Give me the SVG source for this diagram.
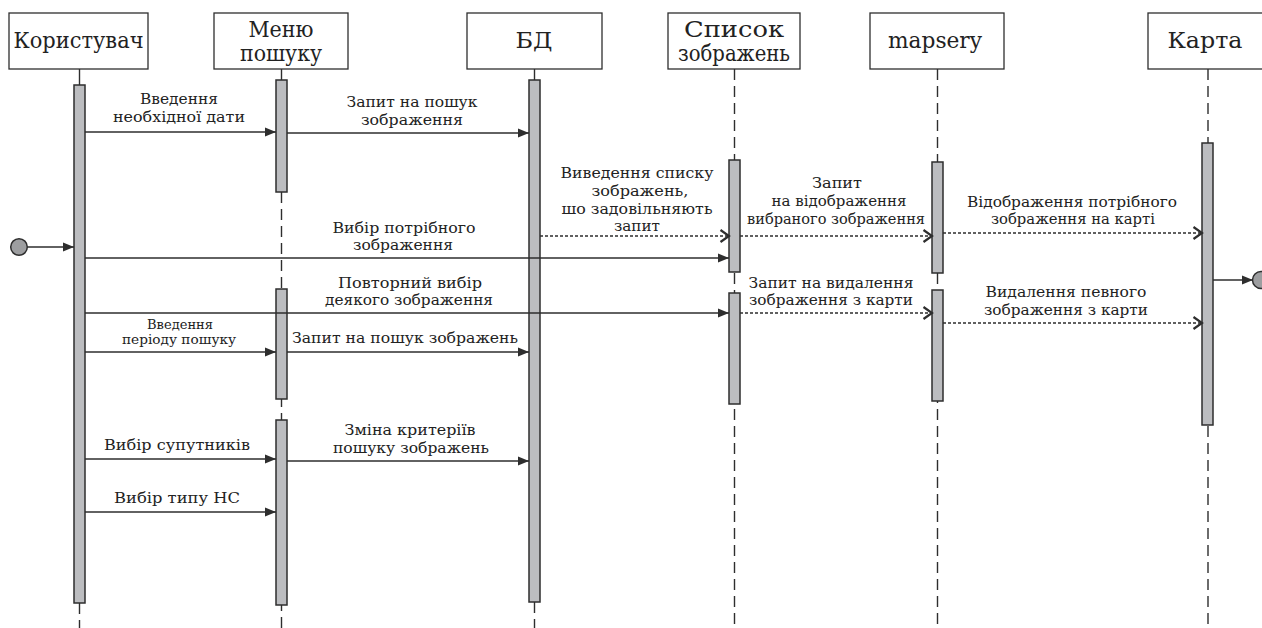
<svg xmlns="http://www.w3.org/2000/svg" width="1262" height="628" viewBox="0 0 1262 628">
<style>
.box{fill:#fff;stroke:#2e2e2e;stroke-width:1.3}
.bar{fill:#bcbdc0;stroke:#2e2e2e;stroke-width:1.5}
.ll{stroke:#2e2e2e;stroke-width:1.4;fill:none}
.lld{stroke:#2e2e2e;stroke-width:1.4;stroke-dasharray:11 6;fill:none}
.msg{stroke:#2e2e2e;stroke-width:1.5;fill:none;marker-end:url(#fill)}
.ret{stroke:#2e2e2e;stroke-width:1.4;stroke-dasharray:3 2;fill:none;marker-end:url(#open)}
.dot{fill:#9d9ea0;stroke:#2e2e2e;stroke-width:1.5}
text{font-family:"DejaVu Serif","Liberation Serif","Noto Serif","Times New Roman",serif;fill:#222;text-anchor:middle}
.h{font-size:22px}
.l{font-size:15.5px}
.s{font-size:12.5px}
</style>
<defs>
<marker id="fill" markerUnits="userSpaceOnUse" markerWidth="12" markerHeight="10" refX="11" refY="5" orient="auto">
<path d="M0,0.5 L11,5 L0,9.5 z" fill="#2e2e2e"/>
</marker>
<marker id="open" markerUnits="userSpaceOnUse" markerWidth="12" markerHeight="14" refX="10" refY="7" orient="auto">
<path d="M1.5,1 L10,7 L1.5,13" fill="none" stroke="#2e2e2e" stroke-width="2.2"/>
</marker>
</defs>
<rect width="1262" height="628" fill="#fff"/>

<g id="node-korystuvach">
<rect class="box" x="9" y="13" width="139" height="56"/>
<text class="h" x="78.5" y="48" textLength="130" lengthAdjust="spacingAndGlyphs">Користувач</text>
<line class="ll" x1="79.5" y1="69" x2="79.5" y2="85"/>
<line class="lld" x1="79.5" y1="603" x2="79.5" y2="628"/>
<rect class="bar" x="74" y="85" width="11" height="518"/>
</g>

<g id="node-menu">
<rect class="box" x="214" y="13" width="134" height="56"/>
<text class="h" x="281" y="37" textLength="65" lengthAdjust="spacingAndGlyphs">Меню</text>
<text class="h" x="281" y="61" textLength="82" lengthAdjust="spacingAndGlyphs">пошуку</text>
<line class="ll" x1="281.5" y1="69" x2="281.5" y2="80"/>
<line class="lld" x1="281.5" y1="192" x2="281.5" y2="628"/>
<rect class="bar" x="276" y="80" width="11" height="112"/>
<rect class="bar" x="276" y="289" width="11" height="110"/>
<rect class="bar" x="276" y="420" width="11" height="185"/>
</g>

<g id="node-bd">
<rect class="box" x="467" y="13" width="135" height="56"/>
<text class="h" x="534" y="48" textLength="37" lengthAdjust="spacingAndGlyphs">БД</text>
<line class="ll" x1="534.5" y1="69" x2="534.5" y2="80"/>
<line class="lld" x1="534.5" y1="602" x2="534.5" y2="628"/>
<rect class="bar" x="529" y="80" width="11" height="522"/>
</g>

<g id="node-spysok">
<rect class="box" x="668" y="13" width="132" height="56"/>
<text class="h" x="734" y="37" textLength="100" lengthAdjust="spacingAndGlyphs">Список</text>
<text class="h" x="734" y="61" textLength="112" lengthAdjust="spacingAndGlyphs">зображень</text>
<line class="lld" x1="734.5" y1="69" x2="734.5" y2="628"/>
<rect class="bar" x="729" y="160" width="11" height="112"/>
<rect class="bar" x="729" y="293" width="11" height="111"/>
</g>

<g id="node-mapsery">
<rect class="box" x="870" y="13" width="134" height="56"/>
<text class="h" x="935" y="48" textLength="94" lengthAdjust="spacingAndGlyphs">mapsery</text>
<line class="lld" x1="937.5" y1="69" x2="937.5" y2="628"/>
<rect class="bar" x="932" y="162" width="11" height="111"/>
<rect class="bar" x="932" y="290" width="11" height="111"/>
</g>

<g id="node-karta">
<rect class="box" x="1148" y="13" width="120" height="56"/>
<text class="h" x="1205" y="48" textLength="75" lengthAdjust="spacingAndGlyphs">Карта</text>
<line class="lld" x1="1208" y1="69" x2="1208" y2="628"/>
<rect class="bar" x="1202" y="143" width="11" height="282"/>
</g>

<g id="node-start">
<circle class="dot" cx="19" cy="247" r="8.3"/>
</g>
<g id="node-end">
<circle class="dot" cx="1261" cy="280" r="8.5"/>
</g>

<g id="connectors">
<g id="m-start">
<line class="msg" x1="27.5" y1="247" x2="74" y2="247"/>
</g>
<g id="m1">
<line class="msg" x1="85" y1="132" x2="276" y2="132"/>
<text class="l" x="179" y="104" textLength="78" lengthAdjust="spacingAndGlyphs">Введення</text>
<text class="l" x="179" y="122" textLength="132" lengthAdjust="spacingAndGlyphs">необхідної дати</text>
</g>
<g id="m2">
<line class="msg" x1="287" y1="133" x2="529" y2="133"/>
<text class="l" x="412" y="107" textLength="131" lengthAdjust="spacingAndGlyphs">Запит на пошук</text>
<text class="l" x="412" y="125" textLength="102" lengthAdjust="spacingAndGlyphs">зображення</text>
</g>
<g id="m3">
<line class="ret" x1="540" y1="236" x2="729" y2="236"/>
<text class="l" x="637" y="178" textLength="153" lengthAdjust="spacingAndGlyphs">Виведення списку</text>
<text class="l" x="640" y="196" textLength="97" lengthAdjust="spacingAndGlyphs">зображень,</text>
<text class="l" x="637" y="214" textLength="151" lengthAdjust="spacingAndGlyphs">шо задовільняють</text>
<text class="l" x="637" y="231" textLength="46" lengthAdjust="spacingAndGlyphs">запит</text>
</g>
<g id="m4">
<line class="ret" x1="740" y1="236" x2="932" y2="236"/>
<text class="l" x="837" y="188" textLength="50" lengthAdjust="spacingAndGlyphs">Запит</text>
<text class="l" x="839" y="206" textLength="135" lengthAdjust="spacingAndGlyphs">на відображення</text>
<text class="l" x="836" y="224" textLength="178" lengthAdjust="spacingAndGlyphs">вибраного зображення</text>
</g>
<g id="m5">
<line class="ret" x1="943" y1="233" x2="1202" y2="233"/>
<text class="l" x="1072" y="207" textLength="210" lengthAdjust="spacingAndGlyphs">Відображення потрібного</text>
<text class="l" x="1073" y="224" textLength="164" lengthAdjust="spacingAndGlyphs">зображення на карті</text>
</g>
<g id="m7">
<line class="msg" x1="85" y1="258" x2="729" y2="258"/>
<text class="l" x="404" y="233" textLength="143" lengthAdjust="spacingAndGlyphs">Вибір потрібного</text>
<text class="l" x="403" y="250" textLength="100" lengthAdjust="spacingAndGlyphs">зображення</text>
</g>
<g id="m11">
<line class="msg" x1="1213" y1="280" x2="1253" y2="280"/>
</g>
<g id="m8">
<line class="msg" x1="85" y1="313" x2="729" y2="313"/>
<text class="l" x="410" y="288" textLength="144" lengthAdjust="spacingAndGlyphs">Повторний вибір</text>
<text class="l" x="409" y="305" textLength="168" lengthAdjust="spacingAndGlyphs">деякого зображення</text>
</g>
<g id="m9">
<line class="ret" x1="740" y1="313" x2="932" y2="313"/>
<text class="l" x="831" y="288" textLength="165" lengthAdjust="spacingAndGlyphs">Запит на видалення</text>
<text class="l" x="831" y="305" textLength="164" lengthAdjust="spacingAndGlyphs">зображення з карти</text>
</g>
<g id="m10">
<line class="ret" x1="943" y1="323" x2="1202" y2="323"/>
<text class="l" x="1066" y="297" textLength="161" lengthAdjust="spacingAndGlyphs">Видалення певного</text>
<text class="l" x="1066" y="315" textLength="164" lengthAdjust="spacingAndGlyphs">зображення з карти</text>
</g>
<g id="m12">
<line class="msg" x1="85" y1="352" x2="276" y2="352"/>
<text class="s" x="180" y="329" textLength="66" lengthAdjust="spacingAndGlyphs">Введення</text>
<text class="s" x="179" y="344" textLength="114" lengthAdjust="spacingAndGlyphs">періоду пошуку</text>
</g>
<g id="m13">
<line class="msg" x1="287" y1="352" x2="529" y2="352"/>
<text class="l" x="405" y="343" textLength="226" lengthAdjust="spacingAndGlyphs">Запит на пошук зображень</text>
</g>
<g id="m14">
<line class="msg" x1="85" y1="459" x2="276" y2="459"/>
<text class="l" x="177" y="450" textLength="146" lengthAdjust="spacingAndGlyphs">Вибір супутників</text>
</g>
<g id="m15">
<line class="msg" x1="287" y1="461" x2="529" y2="461"/>
<text class="l" x="410" y="435" textLength="131" lengthAdjust="spacingAndGlyphs">Зміна критеріїв</text>
<text class="l" x="411" y="453" textLength="156" lengthAdjust="spacingAndGlyphs">пошуку зображень</text>
</g>
<g id="m16">
<line class="msg" x1="85" y1="512" x2="276" y2="512"/>
<text class="l" x="177" y="503" textLength="126" lengthAdjust="spacingAndGlyphs">Вибір типу НС</text>
</g>
</g>
</svg>
